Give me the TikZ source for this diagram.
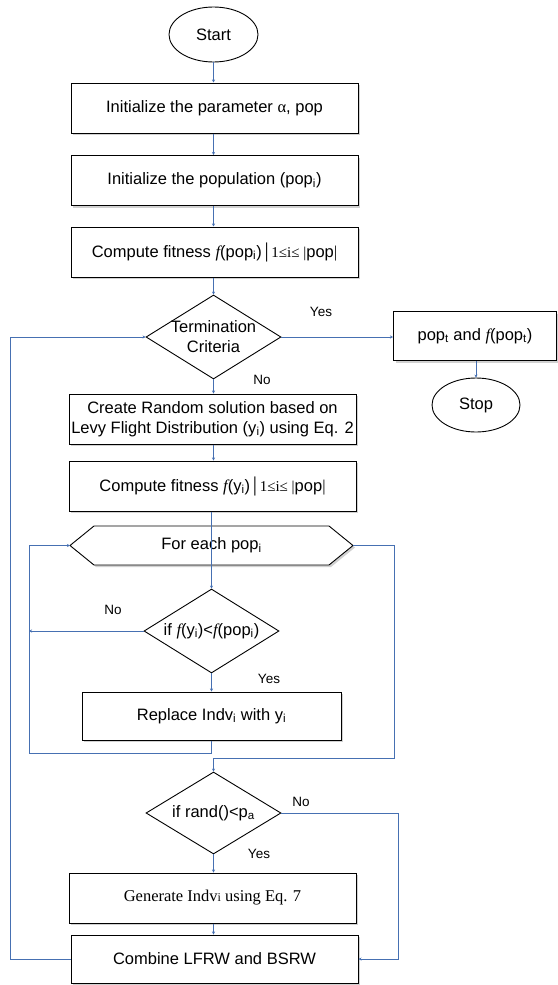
\documentclass[tikz,border=0pt]{standalone}
\usepackage{fontspec}
\setmainfont{Liberation Sans}
\newfontfamily\tnr{Liberation Serif}
\usetikzlibrary{shapes.geometric,arrows.meta,shadows}
\definecolor{linecol}{RGB}{70,112,178}
\newcommand{\fitf}{{\tnr\itshape f}}
\begin{document}
\begin{tikzpicture}[x=1pt,y=-1pt,
  every node/.style={font=\fontsize{16.5}{20}\selectfont},
  shade/.style={drop shadow={shadow xshift=2pt,shadow yshift=-2pt,fill=black!18,opacity=1}},
  procbox/.style={draw=black,line width=1pt,fill=white,shade,minimum width=287pt,minimum height=50pt,inner sep=0pt,align=center},
  term/.style={draw=black,line width=0.9pt,fill=white,ellipse,minimum width=89pt,minimum height=55pt,inner sep=0pt},
  dia/.style={draw=black,line width=0.9pt,fill=white,diamond,minimum width=135pt,minimum height=84pt,inner sep=0pt},
  txt/.style={inner sep=0pt,align=center},
  lbl/.style={inner sep=0pt,font=\fontsize{13.5}{16}\selectfont},
  conn/.style={draw=linecol,line width=0.8pt,-{Stealth[length=3pt,width=3pt]}},
  plain/.style={draw=linecol,line width=0.8pt}
]
\useasboundingbox (0,0) rectangle (557,985);

% main column
\node[term] (start) at (213.5,34.5) {Start};
\node[procbox] (b1) at (214.5,108) {Initialize the parameter {\tnr α}, pop};
\node[procbox] (b2) at (214.5,180.5) {Initialize the population (pop\textsubscript{i})};
\node[procbox] (b3) at (214.5,252) {Compute fitness \fitf(pop\textsubscript{i})\,{\tnr\fontsize{21}{21}\selectfont|}\,{\tnr\fontsize{15}{15}\selectfont 1≤i≤ |}pop{\tnr|}};
\node[dia] (d1) at (213.5,337) {};
\node[txt] (d1t) at (213.5,337) {Termination\\Criteria};
\node[procbox,minimum width=163pt,minimum height=49pt] (bt) at (475,336) {pop\textsubscript{t} and \fitf(pop\textsubscript{t})};
\node[term,minimum width=88pt,minimum height=54pt] (stop) at (476,405) {Stop};
\node[procbox] (b4) at (212.5,419) {Create Random solution based on\\Levy Flight Distribution (y\textsubscript{i}) using Eq. 2};
\node[procbox] (b5) at (212.5,486) {Compute fitness \fitf(y\textsubscript{i})\,{\tnr\fontsize{21}{21}\selectfont|}\,{\tnr\fontsize{15}{15}\selectfont 1≤i≤ |}pop{\tnr|}};

% hexagon
\coordinate (hexW) at (70,545.5);
\coordinate (hexE) at (353,545.5);
\fill[black!18] (96,528) -- (331,528) -- (355,547.5) -- (331,567) -- (96,567) -- (72,547.5) -- cycle;
\draw[black,line width=0.9pt,fill=white] (hexW) -- (94,526) -- (329,526) -- (hexE) -- (329,565) -- (94,565) -- cycle;
\node[txt] (hex) at (211.5,545.5) {For each pop\textsubscript{i}};
\coordinate (hexS) at (211.5,565);

\node[dia] (d2) at (211.5,631) {};
\node[txt] (d2t) at (211.5,631) {if \fitf(y\textsubscript{i})<\fitf(pop\textsubscript{i})};
\node[procbox,minimum width=259pt,minimum height=48pt] (b6) at (211.5,716) {Replace Indv\textsubscript{i} with y\textsubscript{i}};

\node[dia,minimum height=82pt] (d3) at (213.5,813) {};
\node[txt] (d3t) at (213.5,813) {if rand()<p\textsubscript{a}};
\node[procbox] (b7) at (212.5,898) {\tnr Generate Indv{\fontsize{12}{12}\selectfont i} using Eq. 7};
\node[procbox,minimum height=48pt] (b8) at (214.5,959) {Combine LFRW and BSRW};

% straight connectors
\draw[conn] (start.south) -- (start.south |- b1.north);
\draw[conn] (b1.south -| start) -- (start |- b2.north);
\draw[conn] (b2.south -| start) -- (start |- b3.north);
\draw[conn] (b3.south -| d1) -- (d1.north);
\draw[conn] (d1.east) -- (d1.east -| bt.west);
\draw[conn] (stop.north |- bt.south) -- (stop.north);
\draw[conn] (d1.south) -- (d1.south |- b4.north);
\draw[conn] (b4.south -| d1) -- (d1 |- b5.north);
\draw[plain] (b5.south -| hexS) -- (hexS);
\draw[conn] (hexS) -- (d2.north);
\draw[conn] (d2.south) -- (d2.south |- b6.north);
\draw[conn] (b7.south -| d3) -- (d3 |- b8.north);
\draw[conn] (d3.south) -- (d3.south |- b7.north);

% loops
\coordinate (inL) at (29,753);
\draw[conn] (b6.south) -- (b6.south |- inL) -- (inL) -- (inL |- hexW) -- (hexW);
\draw[conn] (d2.west) -- (d2.west -| inL);
\coordinate (rR) at (394,758);
\draw[conn] (hexE) -- (hexE -| rR) -- (rR) -- (rR -| d3.north) -- (d3.north);
\coordinate (rR2) at (398,959);
\draw[conn] (d3.east) -- (d3.east -| rR2) -- (rR2) -- (b8.east);
\coordinate (oL) at (10,959);
\draw[conn] (b8.west) -- (oL) -- (oL |- d1.west) -- (d1.west);

% labels
\node[lbl] (y1) at (321,312) {Yes};
\node[lbl] (n1) at (262,380) {No};
\node[lbl] (n2) at (113,610) {No};
\node[lbl] (y2) at (269,679) {Yes};
\node[lbl] (n3) at (301,802) {No};
\node[lbl] (y3) at (259,854) {Yes};
\end{tikzpicture}
\end{document}
